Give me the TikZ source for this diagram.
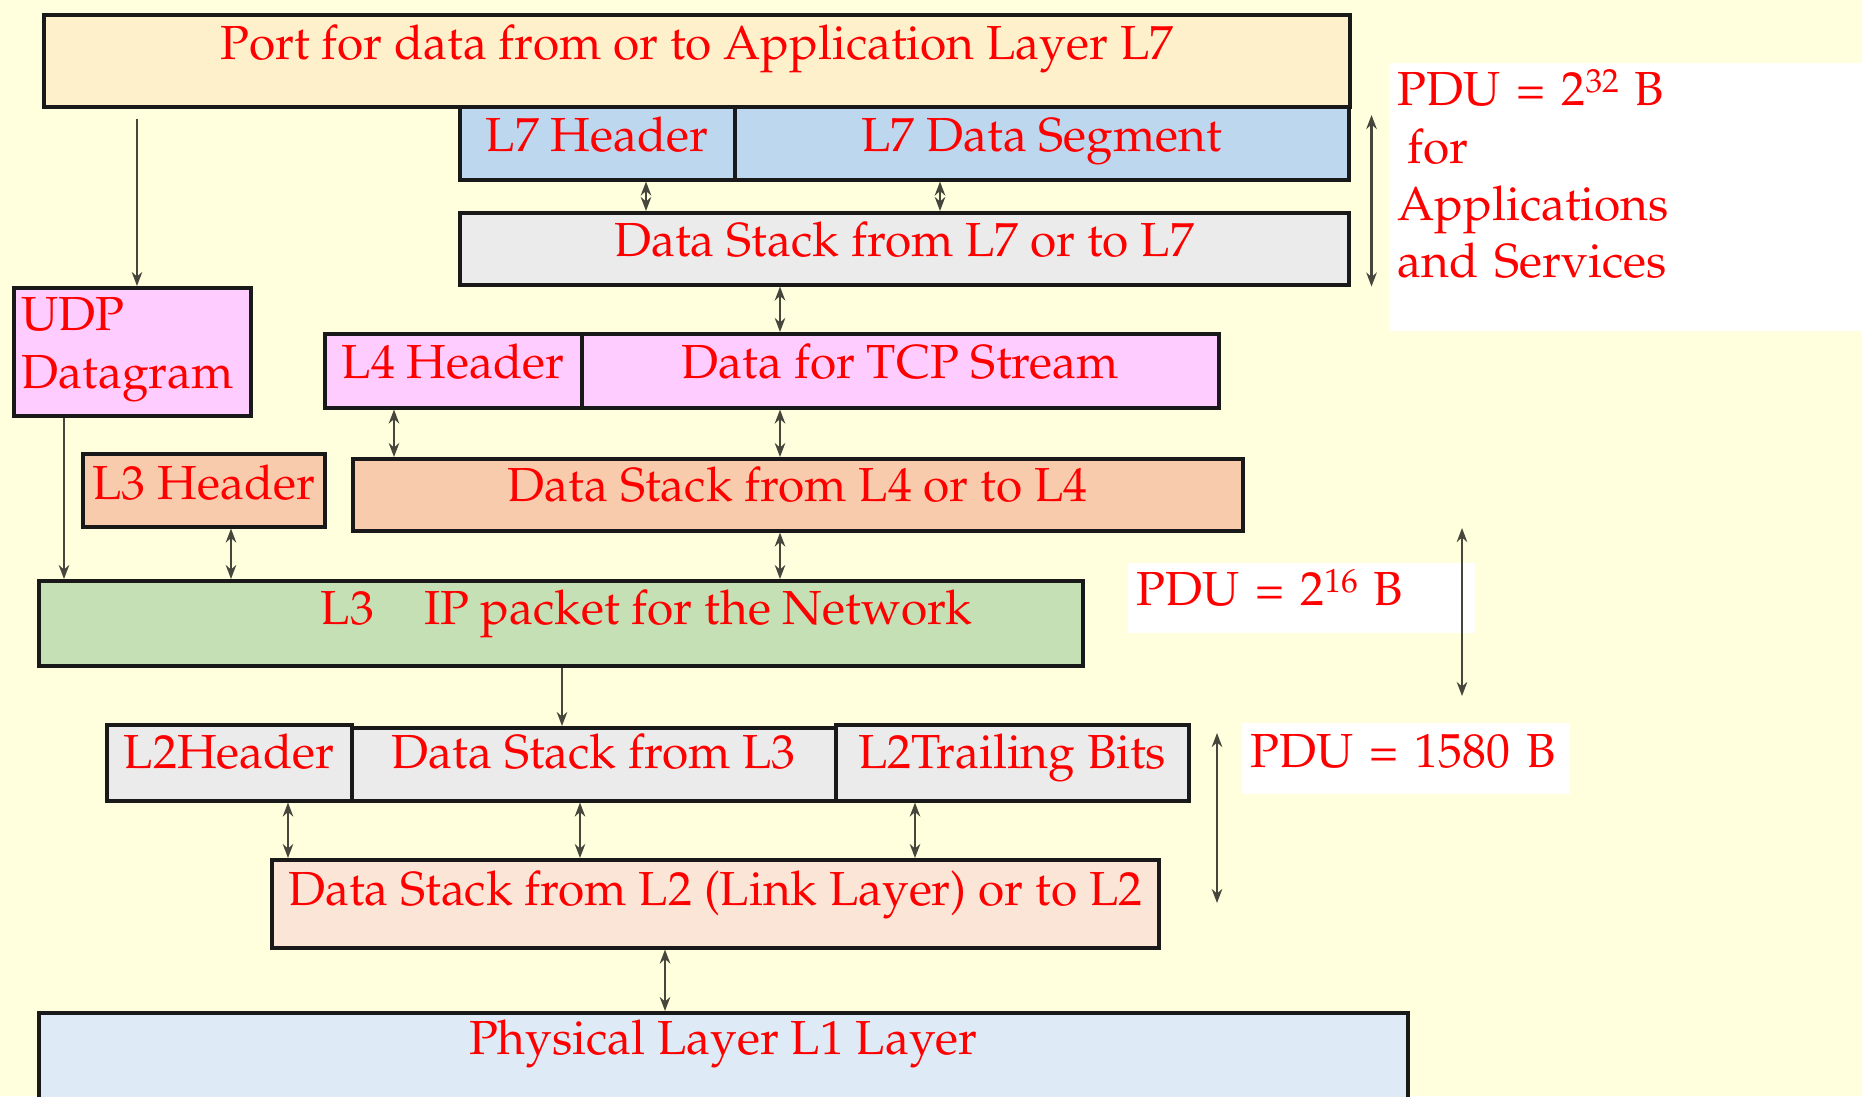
\documentclass[tikz,border=0pt]{standalone}
\usepackage[T1]{fontenc}
\usepackage{mathpazo}
\usetikzlibrary{arrows.meta}

\definecolor{bgyellow}{RGB}{255,255,221}
\definecolor{portcol}{RGB}{255,240,204}
\definecolor{appblue}{RGB}{189,215,238}
\definecolor{stackgray}{RGB}{235,235,235}
\definecolor{tcppink}{RGB}{255,204,255}
\definecolor{netorange}{RGB}{248,203,173}
\definecolor{ipgreen}{RGB}{197,224,180}
\definecolor{linkrose}{RGB}{251,229,214}
\definecolor{physblue}{RGB}{222,235,247}
\definecolor{arrowgray}{RGB}{70,70,60}

\newcommand{\smallsup}[1]{\raisebox{0.6ex}{\fontsize{9.5}{10}\selectfont #1}}

\tikzset{
  layer/.style={draw=black!90, line width=1pt, inner sep=0pt, anchor=north west,
    text=red, font=\fontsize{13.6}{16.3}\selectfont},
  pdubox/.style={fill=white, inner xsep=0.09cm, inner ysep=0pt, anchor=north west,
    align=left, text=red, font=\fontsize{13.6}{16.3}\selectfont},
  twoway/.style={{Stealth[length=4pt,width=3pt]}-{Stealth[length=4pt,width=3pt]},
    line width=0.6pt, arrowgray},
  oneway/.style={-{Stealth[length=4pt,width=3pt]}, line width=0.6pt, arrowgray},
}

\begin{document}
\begin{tikzpicture}
  \useasboundingbox (0,0) rectangle (18.62,-10.96);
  \fill[bgyellow] (0,0) rectangle (18.62,-10.96);

  % application layer
  \node[layer, fill=portcol, minimum width=13.06cm, text height=.45cm, text depth=.47cm]
    (port) at (0.42,-0.13) {Port for data from or to Application Layer L7};
  \node[layer, fill=appblue, minimum width=2.75cm, text height=.45cm, text depth=.28cm]
    (lsevhdr) at (4.58,-1.05) {L7 Header};
  \node[layer, fill=appblue, minimum width=6.14cm, text height=.45cm, text depth=.28cm]
    (lsevdata) at (7.33,-1.05) {L7 Data Segment};
  \node[layer, fill=stackgray, minimum width=8.89cm, text height=.44cm, text depth=.28cm]
    (lsevstack) at (4.58,-2.11) {Data Stack from L7 or to L7};

  % transport layer
  \node[layer, fill=tcppink, minimum width=2.37cm, text width=2.21cm, inner xsep=0.08cm,
    align=left, text height=.43cm, text depth=.85cm]
    (udp) at (0.12,-2.86) {UDP\\Datagram};
  \node[layer, fill=tcppink, minimum width=2.57cm, text height=.45cm, text depth=.29cm]
    (lfourhdr) at (3.23,-3.32) {L4 Header};
  \node[layer, fill=tcppink, minimum width=6.37cm, text height=.45cm, text depth=.29cm]
    (tcp) at (5.80,-3.32) {Data for TCP Stream};
  \node[layer, fill=netorange, minimum width=2.42cm, text height=.46cm, text depth=.27cm]
    (lthreehdr) at (0.81,-4.52) {L3 Header};
  \node[layer, fill=netorange, minimum width=8.90cm, text height=.43cm, text depth=.29cm]
    (lfourstack) at (3.51,-4.57) {Data Stack from L4 or to L4};

  % network layer
  \node[layer, fill=ipgreen, minimum width=10.44cm, text height=.44cm, text depth=.41cm]
    (ip) at (0.37,-5.79) {\hspace*{1.72cm}L3\hspace{0.5cm}IP packet for the Network};

  % link layer
  \node[layer, fill=stackgray, minimum width=2.45cm, text height=.44cm, text depth=.32cm]
    (ltwohdr) at (1.05,-7.23) {L2Header};
  \node[layer, fill=stackgray, minimum width=4.84cm, text height=.41cm, text depth=.32cm]
    (ltwodata) at (3.50,-7.26) {Data Stack from L3};
  \node[layer, fill=stackgray, minimum width=3.53cm, text height=.44cm, text depth=.32cm]
    (ltwotrail) at (8.34,-7.23) {L2Trailing Bits};
  \node[layer, fill=linkrose, minimum width=8.87cm, text height=.46cm, text depth=.42cm]
    (ltwostack) at (2.70,-8.58) {Data Stack from L2 (Link Layer) or to L2};

  % physical layer
  \node[layer, fill=physblue, minimum width=13.69cm, text height=.42cm, text depth=.52cm]
    (phys) at (0.37,-10.11) {Physical Layer L1 Layer};

  % PDU sizes
  \node[pdubox, minimum width=4.74cm, text width=4.56cm, text height=.43cm, text depth=2.25cm]
    (pdufour) at (13.88,-0.62)
    {PDU = 2\smallsup{32} B\\\hspace*{0.1cm}for\\Applications\\and Services};
  \node[pdubox, minimum width=3.47cm, text width=3.29cm, text height=.43cm, text depth=.27cm]
    (pdusix) at (11.27,-5.62) {PDU = 2\smallsup{16} B};
  \node[pdubox, minimum width=3.28cm, text width=3.10cm, text height=.45cm, text depth=.26cm]
    (pdulink) at (12.41,-7.22) {PDU = 1580 B};

  % columns of the connectors
  \coordinate (cudp) at (1.37,-1.19);
  \coordinate (cudpdn) at (0.64,0);
  \coordinate (clsevh) at (6.46,0);
  \coordinate (clsevd) at (9.40,0);
  \coordinate (cmain) at (7.80,0);
  \coordinate (clfourh) at (3.94,0);
  \coordinate (clthree) at (2.31,0);
  \coordinate (cip) at (5.62,0);
  \coordinate (cltwoh) at (2.88,0);
  \coordinate (cltwod) at (5.80,0);
  \coordinate (cltwot) at (9.15,0);
  \coordinate (cphys) at (6.65,0);
  \coordinate (sixtop) at (14.62,-5.28);
  \coordinate (sixbot) at (14.62,-6.96);
  \coordinate (linktop) at (12.17,-7.33);
  \coordinate (linkbot) at (12.17,-9.03);

  \draw[oneway] (cudp) -- (cudp |- udp.north);
  \draw[twoway] (lsevhdr.south -| clsevh) -- (lsevstack.north -| clsevh);
  \draw[twoway] (lsevdata.south -| clsevd) -- (lsevstack.north -| clsevd);
  \draw[twoway] (lsevstack.south -| cmain) -- (tcp.north -| cmain);
  \draw[twoway] (lfourhdr.south -| clfourh) -- (lfourstack.north -| clfourh);
  \draw[twoway] (tcp.south -| cmain) -- (lfourstack.north -| cmain);
  \draw[oneway] (udp.south -| cudpdn) -- (ip.north -| cudpdn);
  \draw[twoway] (lthreehdr.south -| clthree) -- (ip.north -| clthree);
  \draw[twoway] (lfourstack.south -| cmain) -- (ip.north -| cmain);
  \draw[oneway] (ip.south -| cip) -- (ltwodata.north -| cip);
  \draw[twoway] (ltwohdr.south -| cltwoh) -- (ltwostack.north -| cltwoh);
  \draw[twoway] (ltwodata.south -| cltwod) -- (ltwostack.north -| cltwod);
  \draw[twoway] (ltwotrail.south -| cltwot) -- (ltwostack.north -| cltwot);
  \draw[twoway] (ltwostack.south -| cphys) -- (phys.north -| cphys);

  \draw[twoway] ([yshift=-0.1cm]lsevdata.north east) ++(0.21,0) coordinate (apptop)
    -- (apptop |- lsevstack.south);
  \draw[twoway] (sixtop) -- (sixbot);
  \draw[twoway] (linktop) -- (linkbot);
\end{tikzpicture}
\end{document}
